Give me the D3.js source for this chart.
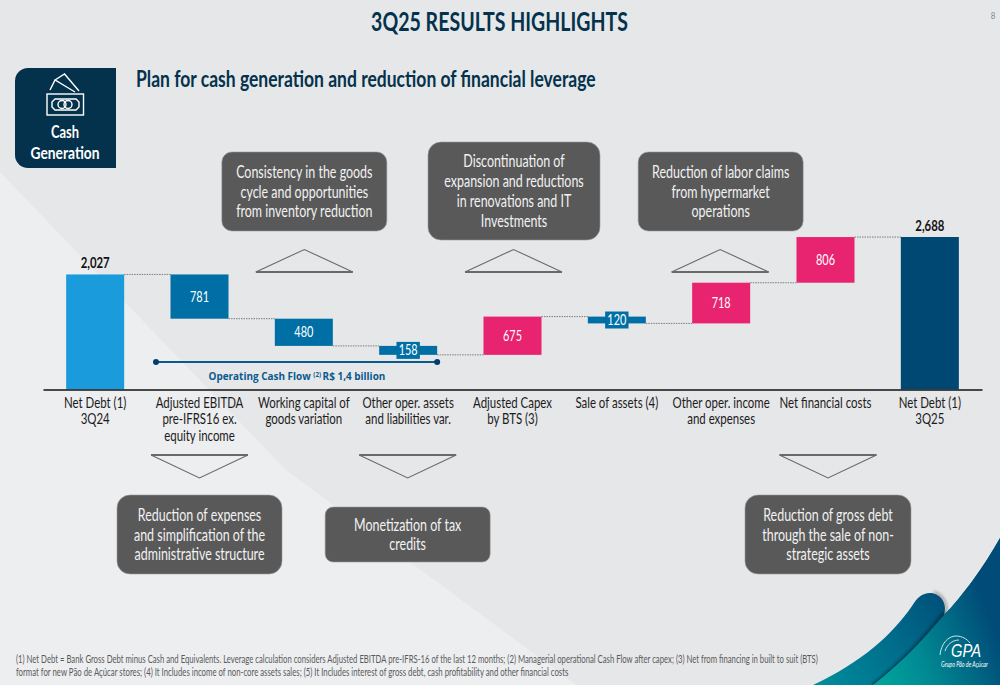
<!DOCTYPE html>
<html><head><meta charset="utf-8">
<style>html,body{margin:0;padding:0;background:#e6e7e9;overflow:hidden}svg{display:block}text{font-family:Lato,"Open Sans",sans-serif}</style>
<script src="https://cdn.jsdelivr.net/npm/d3@7/dist/d3.min.js"></script>
</head><body><svg id="c" width="1000" height="685"></svg>
<script>
// ---------- data ----------
const categories = ["Net Debt 3Q24","Adjusted EBITDA","Working capital","Other oper. assets","Adjusted Capex","Sale of assets","Other oper. income","Net financial costs","Net Debt 3Q25"];
const tickLabels = [["Net Debt (1)","3Q24"],["Adjusted EBITDA","pre-IFRS16 ex.","equity income"],["Working capital of","goods variation"],["Other oper. assets","and liabilities var."],["Adjusted Capex","by BTS (3)"],["Sale of assets (4)"],["Other oper. income","and expenses"],["Net financial costs"],["Net Debt (1)","3Q25"]];
const values = [2027,781,480,158,675,120,718,806,2688];
const kinds = ["start","down","down","down","up","down","up","up","end"];
const calloutsTop = [[2,["Consistency in the goods","cycle and opportunities","from inventory reduction"]],[4,["Discontinuation of","expansion and reductions","in renovations and IT","Investments"]],[6,["Reduction of labor claims","from hypermarket","operations"]]];
const calloutsBottom = [[1,["Reduction of expenses","and simplification of the","administrative structure"]],[3,["Monetization of tax","credits"]],[7,["Reduction of gross debt","through the sale of non-","strategic assets"]]];
const footnotes = ["(1) Net Debt = Bank Gross Debt minus Cash and Equivalents. Leverage calculation considers Adjusted EBITDA pre-IFRS-16 of the last 12 months; (2) Managerial operational Cash Flow after capex; (3) Net from financing in built to suit (BTS)","format for new Pão de Açúcar stores; (4) It Includes income of non-core assets sales; (5) It Includes interest of gross debt, cash profitability and other financial costs"];

// ---------- helpers ----------
const svg = d3.select("#c");
const colors = {start:"#1a9bdb",down:"#006fa6",up:"#e8236f",end:"#004874"};
const DARK="#04324c";
function label(g,str,x,y,size,fill,opt={}){
  const t=g.append("text").attr("font-size",size).attr("fill",fill)
    .attr("text-anchor",opt.anchor||"middle").attr("font-weight",opt.weight||400).text(str);
  if(opt.font)t.style("font-family",opt.font);
  if(opt.italic)t.style("font-style","italic");
  const n=t.node().getComputedTextLength(), k=opt.width?opt.width/n:(opt.k||.8);
  t.attr("transform",`translate(${x},${y}) scale(${k},1)`);
  return t;
}
const defs=svg.append("defs");
function grad(id,x1,y1,x2,y2,stops){
  const g=defs.append("linearGradient").attr("id",id).attr("gradientUnits","userSpaceOnUse")
    .attr("x1",x1).attr("y1",y1).attr("x2",x2).attr("y2",y2);
  stops.forEach(s=>g.append("stop").attr("offset",s[0]).attr("stop-color",s[1]));
}
grad("gRight",875,690,1000,640,[[0,"#00a79d"],[.4,"#008a93"],[1,"#004b78"]]);
grad("gFinger",820,690,945,600,[[0,"#008d9b"],[.55,"#006d8c"],[1,"#00507a"]]);
defs.append("filter").attr("id","blur").attr("x","-20%").attr("y","-20%").attr("width","140%").attr("height","140%")
  .append("feGaussianBlur").attr("stdDeviation",1.6);

// ---------- background ----------
svg.append("rect").attr("width",1000).attr("height",685).attr("fill","#e6e7e9");
svg.append("path").attr("d","M0,172L286,470L576,685L0,685Z").attr("fill","#edeef0");

// swoosh
const fingerD="M1000,538C985,565 962,597 944,615C948,603 940,593 930,593C922,593 917,598 912,606C892,635 862,662 813,685L873,685L1000,685Z";
const rightD="M1000,538C985,565 962,597 944,615C925,637 905,660 873,685L1000,685Z";
svg.append("path").attr("d",fingerD).attr("fill","url(#gFinger)");
svg.append("path").attr("d","M945,612C925,637 905,660 873,685").attr("fill","none").attr("stroke","#00202f").attr("stroke-width",3).attr("filter","url(#blur)").attr("opacity",.7);
svg.append("path").attr("d","M934,592C943,595 948,604 946,614").attr("fill","none").attr("stroke","#444").attr("stroke-width",2).attr("filter","url(#blur)").attr("opacity",.55);
svg.append("path").attr("d",rightD).attr("fill","url(#gRight)");
// logo
svg.append("path").attr("d","M940,655C941,644 948,636 956,636C962,636 967,639 970,643M945,651C947,645 952,640 959,640").attr("fill","none").attr("stroke","#fff").attr("stroke-width",.8);
label(svg,"GPA",966,657,19,"#fff",{width:30,font:"'Liberation Sans'",italic:true});
label(svg,"Grupo Pão de Açúcar",964.5,667,7,"#fff",{width:47,italic:true});

// ---------- headers ----------
label(svg,"3Q25 RESULTS HIGHLIGHTS",499.5,31,27,DARK,{weight:700,width:257});
label(svg,"Plan for cash generation and reduction of financial leverage",136,87,22,DARK,{weight:700,anchor:"start",width:460});
label(svg,"8",993,19,10,"#8a8a8a");

// badge
svg.append("path").attr("d","M116,68V168H28A13,13 0 0 1 15,155V81A13,13 0 0 1 28,68Z").attr("fill",DARK);
const ic=svg.append("g").attr("fill","none").attr("stroke","#fff").attr("stroke-width",1.4);
ic.append("rect").attr("x",47).attr("y",94).attr("width",36.5).attr("height",21);
ic.append("path").attr("d","M55,99H76L79,102V107L76,110H55L52,107V102Z");
ic.append("circle").attr("cx",62).attr("cy",104.5).attr("r",4);
ic.append("circle").attr("cx",68).attr("cy",104.5).attr("r",4);
ic.append("path").attr("d","M50,90L55,80L75,92M55,80L64.5,74L79,91");
label(svg,"Cash",65,138,17,"#fff",{weight:700,width:28});
label(svg,"Generation",65,159,17,"#fff",{weight:700,width:69});

// ---------- scales ----------
const x=d3.scaleBand().domain(categories).range([43,982]).paddingInner(.444).paddingOuter(.222);
const y=d3.scaleLinear().domain([0,2688]).range([389.3,237]);

// waterfall spans
let level=0;
const rows=categories.map((c,i)=>{
  const v=values[i],k=kinds[i];let a,b;
  if(k==="start"||k==="end"){a=0;b=v;level=v}
  else if(k==="down"){a=level;b=level-v;level=b}
  else {a=level;b=level+v;level=b}
  return {c,v,k,lo:Math.min(a,b),hi:Math.max(a,b),after:level};
});

// connectors
svg.append("g").selectAll("line").data(rows.slice(0,-1)).join("line")
  .attr("x1",d=>x(d.c)+x.bandwidth())
  .attr("x2",(d,i)=>x(rows[i+1].c))
  .attr("y1",d=>y(d.after)).attr("y2",d=>y(d.after))
  .attr("stroke","#7d7d7d").attr("stroke-width",1).attr("stroke-dasharray","1.5 1");

// bars
svg.append("g").selectAll("rect").data(rows).join("rect")
  .attr("x",d=>x(d.c)).attr("width",x.bandwidth())
  .attr("y",d=>y(d.hi)).attr("height",d=>y(d.lo)-y(d.hi))
  .attr("fill",d=>colors[d.k]);

// value labels
const vl=svg.append("g");
rows.forEach(d=>{
  const cx=x(d.c)+x.bandwidth()/2;
  if(d.k==="start"||d.k==="end"){
    label(vl,d3.format(",")(d.v),cx,y(d.hi)-6,15.5,"#111",{weight:700,width:29});
    return;
  }
  const cy=(y(d.hi)+y(d.lo))/2;
  if(y(d.lo)-y(d.hi)<12) vl.append("rect").attr("x",cx-11.7).attr("y",cy-8.5).attr("width",23.4).attr("height",17).attr("fill",colors[d.k]);
  label(vl,d.v,cx,cy+5,14.5,"#fff",{width:19});
});

// operating cash flow bracket
const ocfG=svg.append("g");
const ocf0=x(categories[1])+x.bandwidth()/2-43.5, ocf1=x(categories[3])+x.bandwidth()/2+29;
ocfG.append("line").attr("x1",ocf0).attr("x2",ocf1).attr("y1",362).attr("y2",362).attr("stroke","#0a5a8e").attr("stroke-width",2);
[ocf0,ocf1].forEach(p=>ocfG.append("circle").attr("cx",p).attr("cy",362).attr("r",3).attr("fill","#003f6b"));
const ocfT=ocfG.append("text").attr("fill","#0a5a8e").attr("font-size",10.5).attr("font-weight",700).style("font-family","'Open Sans'");
ocfT.append("tspan").text("Operating Cash Flow ");
ocfT.append("tspan").attr("font-size",6.5).attr("dy",-3).text("(2) ");
ocfT.append("tspan").attr("dy",3).text("R$ 1,4 billion");
ocfT.attr("transform",`translate(208.5,379.5) scale(${177/ocfT.node().getComputedTextLength()},1)`);

// axis
const axis=svg.append("g").attr("transform","translate(0,389.5)").call(d3.axisBottom(x).tickSize(0).tickFormat(""));
axis.select(".domain").attr("stroke","#111").attr("stroke-width",1.5);
axis.selectAll(".tick text").remove();
axis.selectAll(".tick").each(function(c,i){
  tickLabels[i].forEach((ln,j)=>label(d3.select(this),ln,0,18+j*16.6,14.5,"#1c1c1c",{k:.79}));
});

// callouts
const boxFill="#595959";
function box(cat,lines,yTop,h,w,r,dx,lineGap){
  const cx=x(categories[cat])+x.bandwidth()/2+dx;
  svg.append("rect").attr("x",cx-w/2).attr("y",yTop).attr("width",w).attr("height",h).attr("rx",r)
    .attr("fill",boxFill).attr("stroke","#9b9b9b").attr("stroke-width",.6);
  const mid=yTop+h/2, start=mid-(lines.length-1)*lineGap/2+6;
  lines.forEach((l,i)=>label(svg,l,cx,start+i*lineGap,16.5,"#f2f2f2",{k:.755}));
}
function tri(cx,yBase,yTip){
  const g=svg.append("g");
  g.append("path").attr("d",`M${cx-48.5},${yBase}L${cx},${yTip}L${cx+48.5},${yBase}`)
    .attr("fill","none").attr("stroke","#6a6a6a").attr("stroke-width",1.1);
  g.append("line").attr("x1",cx-48.5).attr("x2",cx+48.5).attr("y1",yBase).attr("y2",yBase)
    .attr("stroke","#6a6a6a").attr("stroke-width",1.8);
}
const topLayout=[{h:79,y:152,w:165,r:10,dx:.5},{h:98,y:142,w:172,r:13,dx:1.5},{h:79,y:152,w:165,r:10,dx:-.5}];
calloutsTop.forEach((d,i)=>{const L=topLayout[i];box(d[0],d[1],L.y,L.h,L.w,L.r,L.dx,19.8);
  tri(x(categories[d[0]])+x.bandwidth()/2+[.5,1,-1][i],272,249.5);});
const botLayout=[{h:79,y:495,w:165,r:13,dx:0},{h:55,y:507,w:165,r:8,dx:-.5},{h:79,y:495,w:166,r:13,dx:2.5}];
calloutsBottom.forEach((d,i)=>{const L=botLayout[i];box(d[0],d[1],L.y,L.h,L.w,L.r,L.dx,19.8);
  tri(x(categories[d[0]])+x.bandwidth()/2+[0,-.5,2.5][i],455,478);});

// footnotes
label(svg,footnotes[0],16,663,10.5,"#5a5a5a",{anchor:"start",width:803});
label(svg,footnotes[1],16,676,10.5,"#5a5a5a",{anchor:"start",width:553});
</script></body></html>
